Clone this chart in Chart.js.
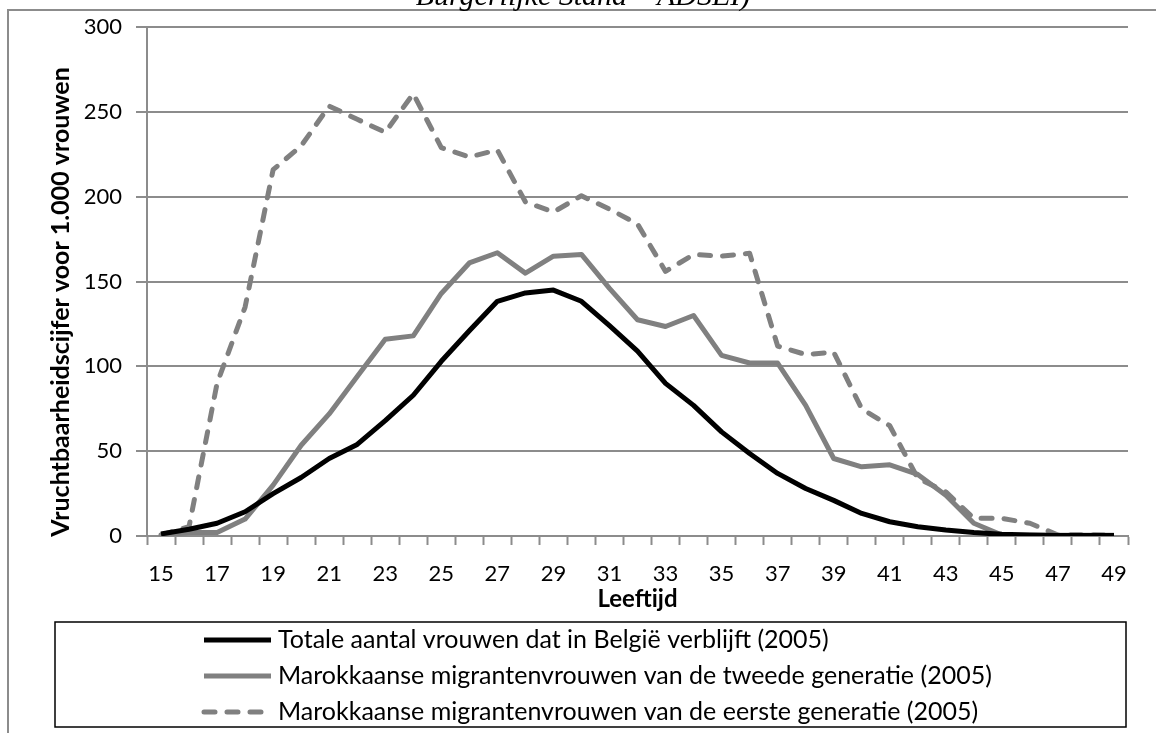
<!DOCTYPE html>
<html lang="nl">
<head>
<meta charset="utf-8">
<title>Vruchtbaarheidscijfer naar leeftijd (2005)</title>
<script src="https://cdn.jsdelivr.net/npm/chart.js@4.4.1/dist/chart.umd.min.js"></script>
<style>
  html, body { margin: 0; padding: 0; background: #ffffff; }
  #wrap { position: relative; width: 1156px; height: 733px; }
  #chart { display: block; }
</style>
</head>
<body>
<div id="wrap"><canvas id="chart" width="1156" height="733"></canvas></div>
<script>
// Leeftijd (jaren)
const ages = [15, 16, 17, 18, 19, 20, 21, 22, 23, 24, 25, 26, 27, 28, 29, 30, 31, 32,
              33, 34, 35, 36, 37, 38, 39, 40, 41, 42, 43, 44, 45, 46, 47, 48, 49];

// Vruchtbaarheidscijfer per 1.000 vrouwen
const totaalBelgie = [1.2, 4, 7.5, 14.3, 25, 34.5, 45.7, 54, 68, 83, 103, 121, 138.4, 143.3, 145,
                      138.4, 124, 109, 90, 77, 61.4, 48.6, 36.9, 28, 21, 13.3, 8.4, 5.5, 3.5, 2,
                      1, 0.6, 0.3, 0.3, 0.3];
const marokTweede = [0.6, 2, 2, 10, 30, 53.5, 72, 94, 116, 118, 143, 161, 167, 155, 165,
                     166, 146, 127.5, 123.5, 130, 106.5, 102, 102, 77, 45.7, 40.8, 42, 36.3, 24, 7.5,
                     0.6, 0.5, 0.5, 0.5, 0.5];
const marokEerste = [0.6, 5.5, 90, 135, 216, 230, 253.5, 245.7, 238, 260.8, 229, 223.5, 227.6, 197, 191,
                     200.6, 192.7, 184, 156, 166, 165, 166.7, 112, 107, 108.4, 75, 65, 34, 26, 10.4,
                     10.4, 7.5, 0.6, 0.8, 0.5];

const seriesNames = [
  'Totale aantal vrouwen dat in België verblijft (2005)',
  'Marokkaanse migrantenvrouwen van de tweede generatie (2005)',
  'Marokkaanse migrantenvrouwen van de eerste generatie (2005)'
];
const yTicks = [0, 50, 100, 150, 200, 250, 300];
const yTitle = 'Vruchtbaarheidscijfer voor 1.000 vrouwen';
const xTitle = 'Leeftijd';
const caption = 'Burgerlijke Stand – ADSEI)';

const FONT = 'Lato, "Open Sans", sans-serif';
const GRID = '#8c8c8c';

// Frame, caption, axis titles and the boxed legend
const decorations = {
  id: 'decorations',
  beforeDraw(chart) {
    const ctx = chart.ctx;
    ctx.save();
    ctx.fillStyle = '#ffffff';
    ctx.fillRect(0, 0, chart.width, chart.height);
    ctx.restore();
  },
  afterDraw(chart) {
    const ctx = chart.ctx;
    const area = chart.chartArea;
    ctx.save();

    // page frame
    ctx.strokeStyle = '#8c8c8c';
    ctx.lineWidth = 2;
    ctx.beginPath();
    ctx.moveTo(8, chart.height);
    ctx.lineTo(8, 10);
    ctx.lineTo(chart.width, 10);
    ctx.stroke();

    // caption line above the frame
    ctx.fillStyle = '#000000';
    ctx.font = 'italic 30px "Liberation Serif", "DejaVu Serif", serif';
    ctx.textAlign = 'center';
    ctx.textBaseline = 'alphabetic';
    ctx.fillText(caption, 583, 5);

    // y axis title
    ctx.save();
    ctx.translate(61, 302);
    ctx.rotate(-Math.PI / 2);
    ctx.font = 'bold 25px ' + FONT;
    ctx.textAlign = 'center';
    ctx.textBaseline = 'middle';
    ctx.fillText(yTitle, 0, 0);
    ctx.restore();

    // x axis title
    ctx.font = 'bold 24px ' + FONT;
    ctx.textAlign = 'center';
    ctx.textBaseline = 'middle';
    ctx.fillText(xTitle, (area.left + area.right) / 2, 599);

    // legend box
    const box = { left: 55, top: 622, right: 1126, bottom: 727 };
    ctx.strokeStyle = '#000000';
    ctx.lineWidth = 1.5;
    ctx.strokeRect(box.left, box.top, box.right - box.left, box.bottom - box.top);

    chart.data.datasets.forEach((ds, i) => {
      const y = 640 + i * 36;
      ctx.save();
      ctx.strokeStyle = ds.borderColor;
      ctx.lineWidth = ds.borderWidth;
      ctx.lineCap = ds.borderDash && ds.borderDash.length ? 'round' : 'butt';
      ctx.setLineDash(ds.borderDash || []);
      ctx.beginPath();
      ctx.moveTo(204, y);
      ctx.lineTo(271, y);
      ctx.stroke();
      ctx.restore();
      ctx.fillStyle = '#000000';
      ctx.font = '25px ' + FONT;
      ctx.textAlign = 'left';
      ctx.textBaseline = 'middle';
      ctx.fillText(ds.label, 278, y);
    });

    ctx.restore();
  }
};

new Chart(document.getElementById('chart'), {
  type: 'line',
  data: {
    labels: ages,
    datasets: [
      {
        label: seriesNames[0],
        data: totaalBelgie,
        borderColor: '#000000',
        borderWidth: 5,
        borderJoinStyle: 'round',
        pointRadius: 0,
        tension: 0
      },
      {
        label: seriesNames[1],
        data: marokTweede,
        borderColor: '#808080',
        borderWidth: 5,
        borderJoinStyle: 'round',
        pointRadius: 0,
        tension: 0
      },
      {
        label: seriesNames[2],
        data: marokEerste,
        borderColor: '#808080',
        borderWidth: 5,
        borderDash: [11, 12],
        borderCapStyle: 'round',
        borderJoinStyle: 'round',
        pointRadius: 0,
        tension: 0
      }
    ]
  },
  options: {
    responsive: false,
    animation: false,
    layout: { padding: { left: 0, right: 28, top: 26, bottom: 142 } },
    plugins: {
      legend: { display: false },
      tooltip: { enabled: false },
      title: { display: false }
    },
    scales: {
      x: {
        type: 'category',
        offset: true,
        afterFit(scale) { scale.height = 55; },
        grid: {
          offset: true,
          drawOnChartArea: false,
          drawTicks: true,
          tickLength: 9,
          tickColor: GRID,
          tickWidth: 2
        },
        border: { color: GRID, width: 2 },
        ticks: {
          autoSkip: false,
          maxRotation: 0,
          padding: 16,
          color: '#000000',
          font: { family: FONT, size: 22 },
          callback(value, index) {
            const age = ages[index];
            return (age - ages[0]) % 2 === 0 ? String(age) : '';
          }
        }
      },
      y: {
        min: yTicks[0],
        max: yTicks[yTicks.length - 1],
        afterFit(scale) { scale.width = 147; },
        afterBuildTicks(scale) { scale.ticks = yTicks.map(v => ({ value: v })); },
        grid: {
          color: GRID,
          lineWidth: 2,
          tickLength: 11,
          drawTicks: true
        },
        border: { color: GRID, width: 2 },
        ticks: {
          padding: 14,
          color: '#000000',
          font: { family: FONT, size: 22 }
        }
      }
    }
  },
  plugins: [decorations]
});
</script>
</body>
</html>
